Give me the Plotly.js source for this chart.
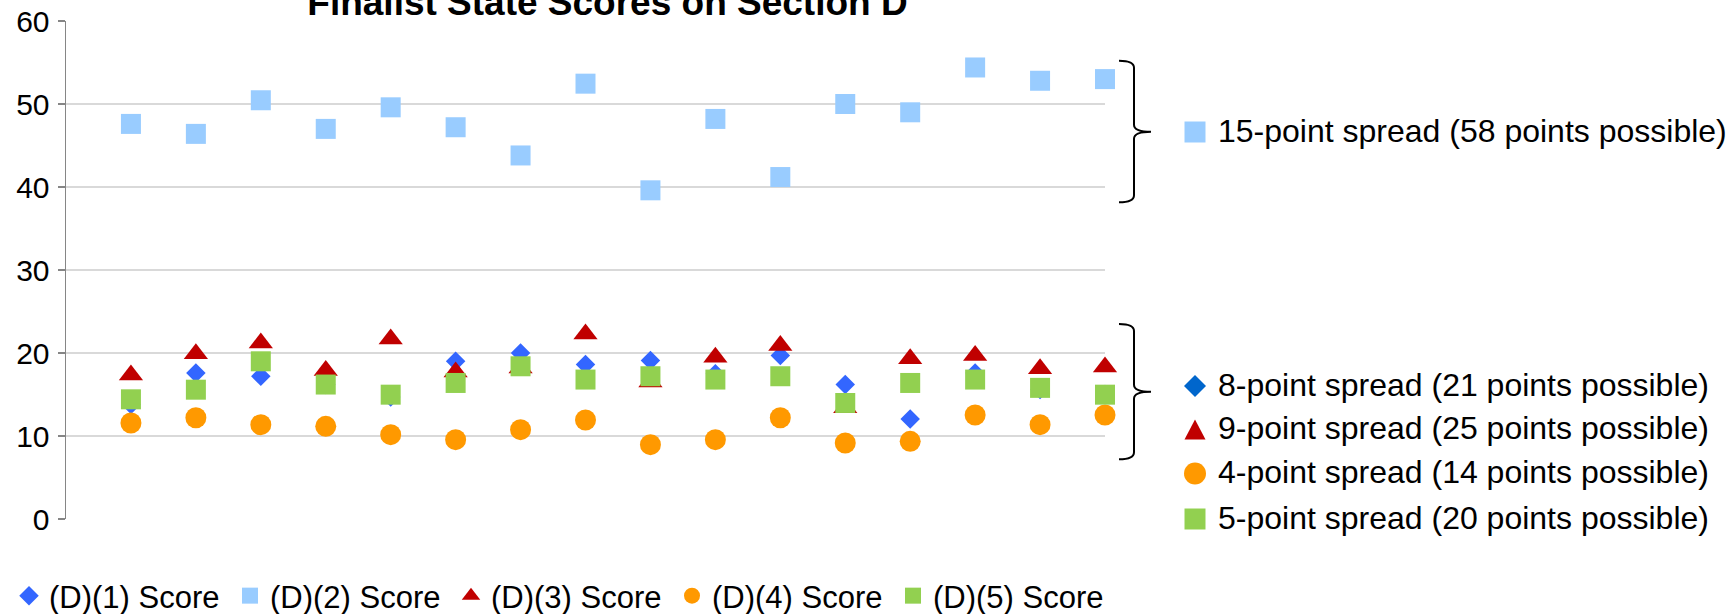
<!DOCTYPE html>
<html><head><meta charset="utf-8">
<script src="https://cdn.plot.ly/plotly-3.0.1.min.js"></script>
<style>html,body{margin:0;padding:0;background:#fff;} #chart{width:1727px;height:614px;}</style>
</head><body><div id="chart"></div>
<script>
// ---------- data ----------
const stateIndex = [1, 2, 3, 4, 5, 6, 7, 8, 9, 10, 11, 12, 13, 14, 15, 16];
const scoreD1 = [13.8, 17.6, 17.2, 16.2, 14.7, 19.0, 20.0, 18.6, 19.1, 17.5, 19.7, 16.2, 12.05, 17.6, 15.6, 15.0];
const scoreD2 = [47.6, 46.4, 50.45, 47.0, 49.6, 47.2, 43.8, 52.45, 39.6, 48.2, 41.2, 50.0, 49.0, 54.4, 52.8, 53.0];
const scoreD3 = [17.35, 19.9, 21.2, 17.9, 21.7, 17.7, 18.2, 22.3, 16.5, 19.5, 20.9, 13.4, 19.3, 19.7, 18.1, 18.3];
const scoreD4 = [11.57, 12.2, 11.37, 11.16, 10.16, 9.56, 10.76, 11.93, 8.96, 9.56, 12.2, 9.16, 9.36, 12.53, 11.37, 12.53];
const scoreD5 = [14.42, 15.58, 19.0, 16.2, 14.98, 16.39, 18.4, 16.8, 17.2, 16.8, 17.2, 13.98, 16.39, 16.8, 15.8, 14.98];
const seriesNames = ['(D)(1) Score', '(D)(2) Score', '(D)(3) Score', '(D)(4) Score', '(D)(5) Score'];
const yTicks = [0, 10, 20, 30, 40, 50, 60];
const chartTitle = 'Finalist State Scores on Section D';
const groupLabels = ['15-point spread (58 points possible)', '8-point spread (21 points possible)',
  '9-point spread (25 points possible)', '4-point spread (14 points possible)', '5-point spread (20 points possible)'];

// ---------- layout geometry (px) ----------
const W = 1727, H = 614, L = 66, R = 622, T = 21, B = 95;
const PW = W - L - R, PH = H - T - B;
const px = x => (x - L) / PW;
const py = y => 1 - (y - T) / PH;
const FONT = 'Liberation Sans, Arial, sans-serif';

const styles = [
  {symbol: 'diamond', color: '#3366FF', size: 15},
  {symbol: 'square', color: '#99CCFF', size: 20},
  {symbol: 'triangle-up', color: '#C00000', size: 21},
  {symbol: 'circle', color: '#FF9900', size: 21},
  {symbol: 'square', color: '#92D050', size: 20}
];
const series = [scoreD1, scoreD2, scoreD3, scoreD4, scoreD5];

const traces = series.map((ys, i) => ({
  type: 'scatter', mode: 'markers', x: stateIndex, y: ys, name: seriesNames[i],
  cliponaxis: false,
  marker: {symbol: styles[i].symbol, color: styles[i].color, size: styles[i].size, line: {width: 0}},
  hoverinfo: 'x+y+name'
}));

// ---------- right-hand key (decoration) ----------
const keyX = 1195, keyTextX = 1216;
const keyRows = [132, 386, 429.5, 473.5, 519];
const keyStyle = [
  {kind: 'square', color: '#99CCFF'},
  {kind: 'diamond', color: '#0066CC'},
  {kind: 'triangle', color: '#C00000'},
  {kind: 'circle', color: '#FF9900'},
  {kind: 'square', color: '#92D050'}
];
const shapes = [];
function pathPx(pts) {
  return 'M ' + pts.map(p => px(p[0]).toFixed(5) + ',' + py(p[1]).toFixed(5)).join(' L ') + ' Z';
}
keyStyle.forEach((k, i) => {
  const cx = keyX, cy = keyRows[i], h = 10.5;
  let s = {type: 'path', xref: 'paper', yref: 'paper', fillcolor: k.color, line: {width: 0}, layer: 'above'};
  if (k.kind === 'square') {
    Object.assign(s, {type: 'rect', x0: px(cx - h), x1: px(cx + h), y0: py(cy - h), y1: py(cy + h)});
  } else if (k.kind === 'circle') {
    Object.assign(s, {type: 'circle', x0: px(cx - 11), x1: px(cx + 11), y0: py(cy - 11), y1: py(cy + 11)});
  } else if (k.kind === 'diamond') {
    s.path = pathPx([[cx, cy - 11], [cx + 11, cy], [cx, cy + 11], [cx - 11, cy]]);
  } else {
    s.path = pathPx([[cx, cy - 10], [cx + 10.5, cy + 10], [cx - 10.5, cy + 10]]);
  }
  shapes.push(s);
});
// curly braces
const braces = [{top: 60.7, mid: 131.7, bottom: 202.3}, {top: 324, mid: 391.7, bottom: 459.3}];
const bx0 = 1119, bx1 = 1134, bx2 = 1151;
braces.forEach(b => {
  const P = (x, y) => px(x).toFixed(5) + ',' + py(y).toFixed(5);
  const r = 7;
  const path = 'M ' + P(bx0, b.top) + ' Q ' + P(bx1, b.top) + ' ' + P(bx1, b.top + r) +
    ' L ' + P(bx1, b.mid - r) + ' Q ' + P(bx1, b.mid) + ' ' + P(bx2, b.mid) +
    ' Q ' + P(bx1, b.mid) + ' ' + P(bx1, b.mid + r) +
    ' L ' + P(bx1, b.bottom - r) + ' Q ' + P(bx1, b.bottom) + ' ' + P(bx0, b.bottom);
  shapes.push({type: 'path', xref: 'paper', yref: 'paper', path: path, line: {color: '#000', width: 2}, layer: 'above'});
});

const annotations = groupLabels.map((t, i) => ({
  text: t, x: px(keyTextX), y: py(keyRows[i] - 1.5), xref: 'paper', yref: 'paper',
  xanchor: 'left', yanchor: 'middle', showarrow: false,
  font: {family: FONT, size: 32, color: '#000'}
}));

const layout = {
  width: W, height: H,
  margin: {l: L, r: R, t: T, b: B, pad: 0, autoexpand: false},
  paper_bgcolor: '#fff', plot_bgcolor: '#fff',
  title: {text: chartTitle, x: 607.5 / W, xanchor: 'center', xref: 'container', yref: 'container',
    y: 1 - 15 / H, yanchor: 'bottom', font: {family: FONT, size: 37, color: '#000', weight: 700}},
  xaxis: {range: [0, 16], showticklabels: false, showgrid: false, zeroline: false, showline: false, ticks: '', fixedrange: true},
  yaxis: {range: [0, 60], tickvals: yTicks, ticktext: yTicks.map(String),
    showgrid: true, gridcolor: '#D9D9D9', gridwidth: 1.5, zeroline: false,
    showline: true, linecolor: '#868686', linewidth: 1.5,
    ticks: 'outside', ticklen: 7, tickwidth: 1.5, tickcolor: '#868686',
    ticklabelstandoff: 2,
    tickfont: {family: FONT, size: 30, color: '#000'}, fixedrange: true},
  showlegend: true,
  legend: {orientation: 'h', x: px(9), xanchor: 'left', y: py(596), yanchor: 'middle',
    font: {family: FONT, size: 31, color: '#000'}, entrywidth: 176, entrywidthmode: 'pixels',
    bgcolor: 'rgba(0,0,0,0)', borderwidth: 0, traceorder: 'normal'},
  shapes: shapes,
  annotations: annotations
};

Plotly.newPlot('chart', traces, layout, {displayModeBar: false, staticPlot: true});
</script>
</body></html>
